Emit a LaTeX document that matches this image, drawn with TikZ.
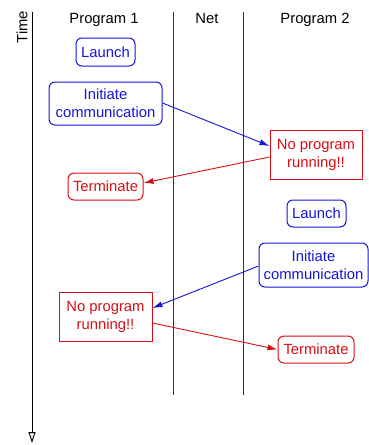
\documentclass[tikz,border=0pt]{standalone}
\usepackage{fontspec}
\setmainfont{Liberation Sans}
\usetikzlibrary{arrows.meta}
\definecolor{myblue}{RGB}{20,20,215}
\definecolor{myred}{RGB}{215,15,20}
\tikzset{
  lbl/.style={font=\fontsize{14.8}{18}\selectfont, inner sep=0pt, align=center},
  rbox/.style={lbl, draw, line width=1pt, rounded corners=6pt},
  sbox/.style={lbl, draw, line width=1pt},
  bluebox/.style={rbox, draw=myblue, text=myblue},
  redbox/.style={rbox, draw=myred, text=myred},
  redsq/.style={sbox, draw=myred, text=myred},
  lane/.style={line width=1pt, black!80},
  msgb/.style={myblue, line width=0.9pt, -{Latex[length=10pt,width=6pt]}},
  msgr/.style={myred, line width=0.9pt, -{Latex[length=10pt,width=6pt]}},
}
\begin{document}
\begin{tikzpicture}[x=1pt,y=-1pt]
\useasboundingbox (0,0) rectangle (369,445);
% headers
\node[lbl, anchor=base] (h1) at (104,23) {Program 1};
\node[lbl, anchor=base] (h2) at (207,23) {Net};
\node[lbl, anchor=base] (h3) at (315,23) {Program 2};
\node[lbl, rotate=90] (time) at (22,27) {Time};
% lanes
\coordinate (t0) at (32,12);
\coordinate (t1) at (32,443);
\draw[line width=1pt, -{Triangle[open,length=11pt,width=7pt]}] (t0) -- (t1);
\coordinate (a0) at (173,12);
\coordinate (a1) at (173,395);
\coordinate (b0) at (243,12);
\coordinate (b1) at (243,395);
\draw[lane] (a0) -- (a1);
\draw[lane] (b0) -- (b1);
% boxes program 1
\node[bluebox, minimum width=59pt, minimum height=28pt] (L1) at (105.5,52) {Launch};
\node[bluebox, minimum width=113pt, minimum height=43pt] (I1) at (105.5,103.5) {Initiate\\communication};
\node[redbox, minimum width=75pt, minimum height=27pt] (T1) at (105.5,186.5) {Terminate};
\node[redsq, minimum width=93pt, minimum height=49pt] (N1) at (105.5,316.5) {No program\\running!!};
% boxes program 2
\node[redsq, minimum width=92pt, minimum height=49pt] (N2) at (316,154.5) {No program\\running!!};
\node[bluebox, minimum width=59pt, minimum height=27pt] (L2) at (316.5,213.5) {Launch};
\node[bluebox, minimum width=109pt, minimum height=44pt] (I2) at (313.5,265) {Initiate\\communication};
\node[redbox, minimum width=76pt, minimum height=27pt] (T2) at (316,349.5) {Terminate};
% messages
\draw[msgb] ([yshift=0.5pt]I1.east) -- ([yshift=8.5pt]N2.west);
\draw[msgr] ([yshift=-2.5pt]N2.west) -- ([yshift=3.5pt]T1.east);
\draw[msgb] ([yshift=-1pt]I2.west) -- ([yshift=8.5pt]N1.east);
\draw[msgr] ([yshift=-6.5pt]N1.east) -- (T2.west);
\end{tikzpicture}
\end{document}
